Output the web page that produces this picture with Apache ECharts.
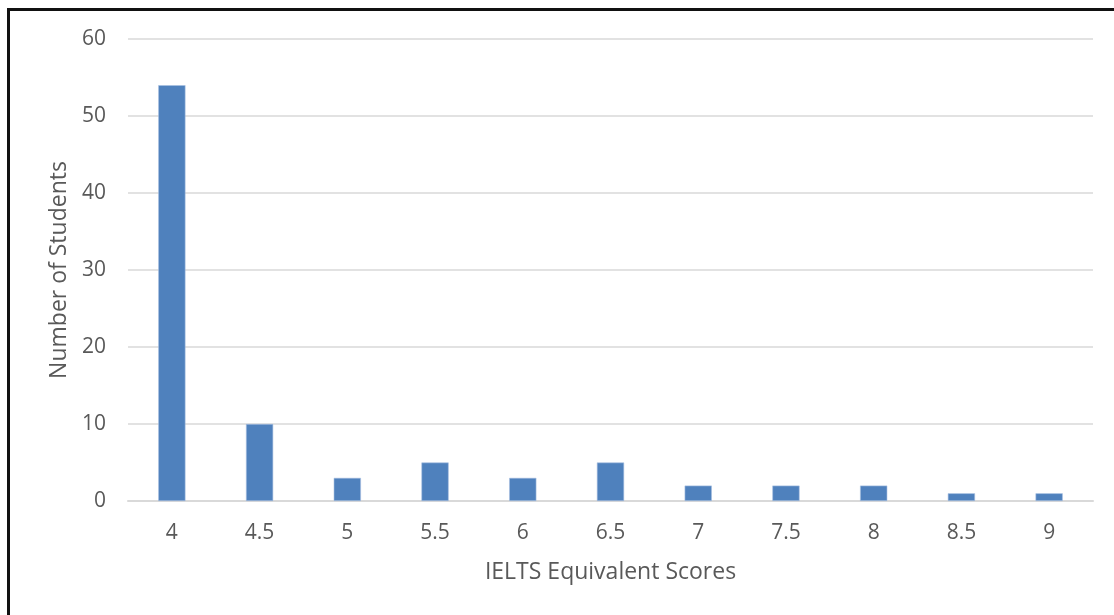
<!DOCTYPE html>
<html>
<head>
<meta charset="utf-8">
<script src="https://cdn.jsdelivr.net/npm/echarts@6/dist/echarts.min.js"></script>
<style>
  html, body { margin: 0; padding: 0; background: #fff; }
  #chart { width: 1114px; height: 615px; }
</style>
</head>
<body>
<div id="chart"></div>
<script>
// IELTS equivalent score bands and how many students fell into each
const scores = ['4', '4.5', '5', '5.5', '6', '6.5', '7', '7.5', '8', '8.5', '9'];
const students = [54, 10, 3, 5, 3, 5, 2, 2, 2, 1, 1];
const yTicks = [0, 10, 20, 30, 40, 50, 60];

const textColor = '#595959';
const gridColor = '#d9d9d9';
const fontFamily = '"Open Sans", "Liberation Sans", sans-serif';

const chart = echarts.init(document.getElementById('chart'), null, { renderer: 'canvas' });
chart.setOption({
  animation: false,
  backgroundColor: '#ffffff',
  textStyle: { fontFamily: fontFamily, color: textColor },
  // dark frame along the top and left edges
  graphic: [
    { type: 'rect', shape: { x: 7, y: 8, width: 1120, height: 3 }, style: { fill: '#111' } },
    { type: 'rect', shape: { x: 7, y: 8, width: 3, height: 620 }, style: { fill: '#111' } }
  ],
  grid: { left: 128, right: 21, top: 39, bottom: 114, containLabel: false },
  xAxis: {
    type: 'category',
    data: scores,
    name: 'IELTS Equivalent Scores',
    nameLocation: 'middle',
    nameGap: 60,
    nameTextStyle: { fontSize: 23, color: textColor, fontFamily: fontFamily },
    axisLine: { lineStyle: { color: gridColor, width: 2 } },
    axisTick: { show: false },
    axisLabel: { fontSize: 21, color: textColor, margin: 22, fontFamily: fontFamily }
  },
  yAxis: {
    type: 'value',
    min: yTicks[0],
    max: yTicks[yTicks.length - 1],
    interval: 10,
    name: 'Number of Students',
    nameLocation: 'middle',
    nameGap: 57,
    nameRotate: 90,
    nameTextStyle: { fontSize: 23, color: textColor, fontFamily: fontFamily },
    axisLine: { show: false },
    axisTick: { show: false },
    axisLabel: { fontSize: 21, color: textColor, margin: 22, fontFamily: fontFamily },
    splitLine: { lineStyle: { color: gridColor, width: 1.5 } }
  },
  series: [{
    type: 'bar',
    data: students,
    barWidth: '31%',
    itemStyle: { color: '#4f81bd', borderColor: '#a8c0e0', borderWidth: 0.6 }
  }]
});
</script>
</body>
</html>
